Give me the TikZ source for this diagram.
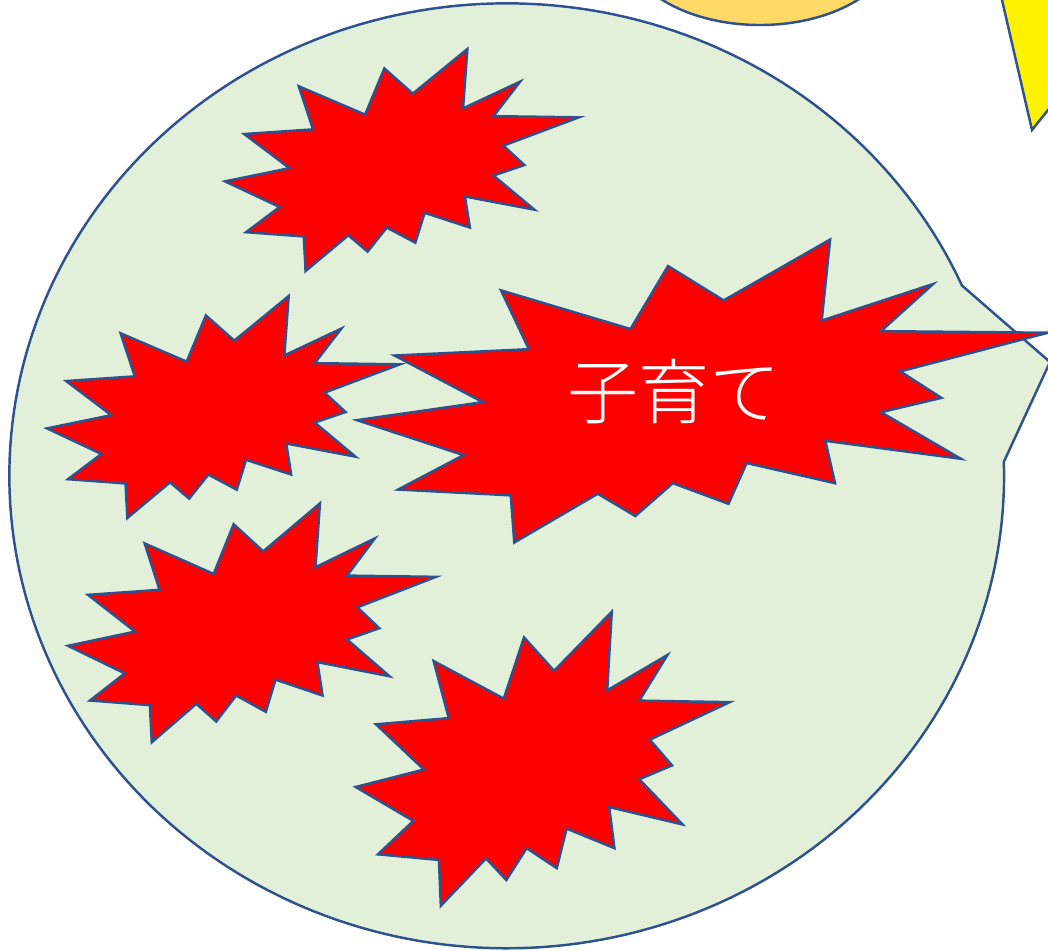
\documentclass[tikz,border=0pt]{standalone}
\usepackage{fontspec}
\IfFontExistsTF{Noto Sans CJK JP Light}
    {\newfontfamily\jpfont{Noto Sans CJK JP Light}}
    {\newfontfamily\jpfont{Noto Sans CJK JP}}
\definecolor{shapeline}{HTML}{2F528F}
\definecolor{bubblefill}{HTML}{E2F0D9}
\definecolor{sunfill}{HTML}{FFD966}
\tikzset{
    outline/.style={draw=shapeline, line width=0.7pt, line join=miter},
    % explosion shape in a 100 x 100 box
    seal/.pic={
        \filldraw[outline, fill=red] (53.06,20.10) -- (68.47,0) -- (67.25,26.75) -- (83.37,14.69)
            -- (75.83,30.24) -- (100,30.76) -- (78.63,43.53) -- (84.58,52.27)
            -- (75.83,56.99) -- (87.39,72.37) -- (67.78,66.44) -- (69.18,80.42)
            -- (56.39,73.77) -- (53.76,87.23) -- (45.70,80.42) -- (40.28,91.26)
            -- (34.85,83.91) -- (22.76,100) -- (22.25,84.44) -- (5.95,82.52)
            -- (15.42,71.16) -- (0,59.62) -- (18.22,53.67) -- (5.43,38.29)
            -- (24.87,36.19) -- (20.84,16.78) -- (39.58,29.55) -- (45.01,8.74) -- cycle;
    }
}
\begin{document}
\begin{tikzpicture}[x=0.01cm, y=-0.01cm]
    \clip (0,0) rectangle (1048,950);

    % Top shapes
    \filldraw[outline, fill=sunfill] (760,-60) ellipse [x radius=137.7, y radius=85];
    \filldraw[outline, fill=yellow] (997.4,-20) -- (1032,130) -- (1070,82.5) -- (1070,-20) -- cycle;

    % Speech bubble
    \coordinate (tip) at (1050,362);
    \filldraw[outline, fill=bubblefill] plot[domain=23.75:361.7, samples=240]
        ({506.7+497.4*cos(\x)}, {475.8-472.5*sin(\x)}) -- (tip) -- cycle;

    % Explosions
    \pic[xscale=3.54, yscale=2.22] at (225,49) {seal};
    \pic[xscale=3.53, yscale=2.22] at (47,296) {seal};
    \pic[xscale=3.68, yscale=2.39] at (68,503.3) {seal};
    \pic[xscale=3.74, yscale=2.94] at (355.7,611.7) {seal};
    \pic[xscale=6.91, yscale=3.03] at (357,239.5) {seal};

    % Label
    \node[text=white, font=\jpfont\fontsize{20.2}{24}\selectfont] (kosodate) at (674,392) {子育て};
\end{tikzpicture}
\end{document}
